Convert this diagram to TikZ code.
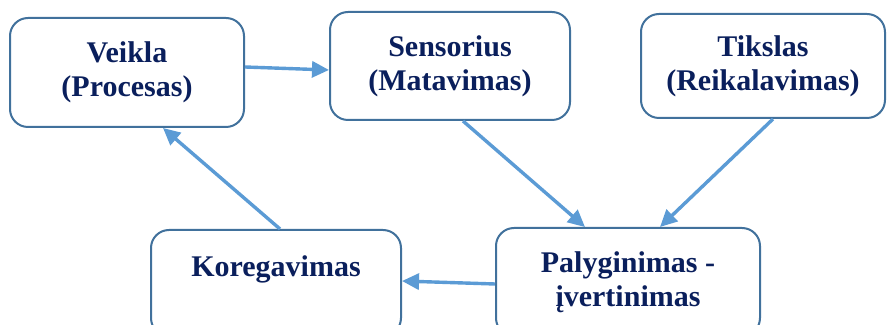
\documentclass[tikz,border=0pt]{standalone}
\usepackage{fontspec}
\setmainfont{Liberation Serif}
\usetikzlibrary{arrows.meta}
\definecolor{boxline}{HTML}{41719C}
\definecolor{boxtext}{HTML}{0A1F5C}
\definecolor{arrowblue}{HTML}{5B9BD5}
\begin{document}
\begin{tikzpicture}[x=0.5pt, y=-0.5pt,
    every node/.style={draw=boxline, line width=1pt, rectangle, rounded corners=9pt, align=center, text=boxtext,
      font=\fontsize{15}{17}\selectfont\bfseries},
    arrow/.style={-{Triangle[length=8.5pt, width=8pt]}, draw=arrowblue, line width=1.7pt}
  ]
    \useasboundingbox (0,0) rectangle (891,325);
    \node (veikla) [minimum width=117pt, minimum height=54.5pt] at (127,72.5) {Veikla\\(Procesas)};
    \node (sensorius) [minimum width=120pt, minimum height=54pt] at (450,66) {Sensorius\\(Matavimas)};
    \node (tikslas) [minimum width=122pt, minimum height=52pt] at (763,66) {Tikslas\\(Reikalavimas)};
    \node (koregavimas) [minimum width=125pt, minimum height=53pt] at (276,283) {Koregavimas\\\phantom{X}};
    \node (palyginimas) [minimum width=132pt, minimum height=54pt] at (628,282) {Palyginimas -\\įvertinimas};

    \draw[arrow] ([yshift=2.75pt]veikla.east) -- ([yshift=-2pt]sensorius.west);
    \draw[arrow] ([xshift=6.5pt]sensorius.south) -- ([xshift=-21.5pt]palyginimas.north);
    \draw[arrow] ([xshift=5pt]tikslas.south) -- ([xshift=16pt]palyginimas.north);
    \draw[arrow] ([yshift=-1pt]palyginimas.west) -- ([yshift=1pt]koregavimas.east);
    \draw[arrow] ([xshift=2pt]koregavimas.north) -- ([xshift=18pt]veikla.south);
  \end{tikzpicture}
\end{document}
